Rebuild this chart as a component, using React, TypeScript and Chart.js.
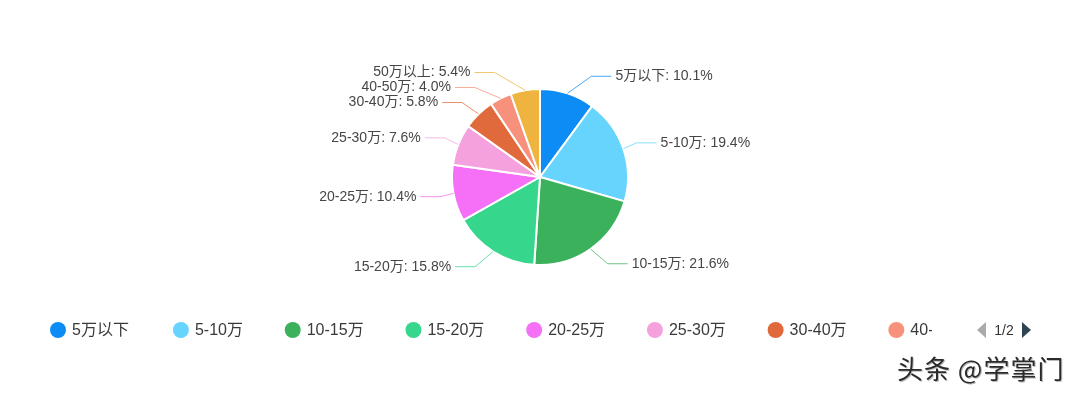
import React, { useEffect, useRef } from "react";
import { Chart, registerables } from "chart.js";

Chart.register(...registerables);

const categories = ["5万以下", "5-10万", "10-15万", "15-20万", "20-25万", "25-30万", "30-40万", "40-50万", "50万以上"];
const shares = [10.1, 19.4, 21.6, 15.8, 10.4, 7.6, 5.8, 4.0, 5.4];
const sliceColors = ["#0d8cf5", "#66d4fc", "#3cb15c", "#36d68d", "#f56ff7", "#f5a1dd", "#e06a3c", "#f7917b", "#efb33f"];
const pagerText = "1/2";
const watermark = "头条 @学掌门";

const FONT = '"Liberation Sans", "Noto Sans CJK SC", sans-serif';

const pieLabels = {
  id: "pieLabels",
  afterDatasetsDraw(chart: any) {
    const ctx = chart.ctx;
    const meta = chart.getDatasetMeta(0);
    const LEN1 = 18;
    const LEN2 = 20;
    const items = meta.data.map((arc: any, i: number) => {
      const p = arc.getProps(["x", "y", "startAngle", "endAngle", "outerRadius"], true);
      const mid = (p.startAngle + p.endAngle) / 2;
      return {
        i,
        cx: p.x,
        cy: p.y,
        r: p.outerRadius,
        ex: p.x + Math.cos(mid) * p.outerRadius,
        ey: p.y + Math.sin(mid) * p.outerRadius,
        ly: p.y + Math.sin(mid) * (p.outerRadius + LEN1),
        right: Math.cos(mid) >= 0,
      };
    });
    const gap = 15;
    [true, false].forEach((side) => {
      const list = items.filter((it: any) => it.right === side).sort((a: any, b: any) => a.ly - b.ly);
      for (let k = 1; k < list.length; k++) {
        if (list[k].ly < list[k - 1].ly + gap) list[k].ly = list[k - 1].ly + gap;
      }
    });
    ctx.save();
    ctx.font = `14px ${FONT}`;
    ctx.textBaseline = "middle";
    items.forEach((it: any) => {
      const RA = it.r + 13;
      const RB = it.r + 29;
      const dy = it.ly - it.cy;
      const dx = RA * Math.sqrt(Math.max(0, 1 - (dy * dy) / (RB * RB)));
      const sx = it.right ? 1 : -1;
      const bx = it.cx + sx * dx;
      const hx = bx + sx * LEN2;
      ctx.strokeStyle = sliceColors[it.i];
      ctx.globalAlpha = 0.75;
      ctx.lineWidth = 1;
      ctx.beginPath();
      ctx.moveTo(it.ex, it.ey);
      ctx.lineTo(bx, it.ly);
      ctx.lineTo(hx, it.ly);
      ctx.stroke();
      ctx.globalAlpha = 1;
      ctx.fillStyle = "#464646";
      ctx.textAlign = it.right ? "left" : "right";
      const txt = `${categories[it.i]}: ${shares[it.i].toFixed(1)}%`;
      ctx.fillText(txt, hx + sx * 4, it.ly);
    });
    ctx.restore();
  },
};

const legendAndMark = {
  id: "legendAndMark",
  afterDraw(chart: any) {
    const ctx = chart.ctx;
    const y = 330;
    const clipRight = 932;
    ctx.save();
    ctx.beginPath();
    ctx.rect(0, y - 20, clipRight, 40);
    ctx.clip();
    ctx.font = `16px ${FONT}`;
    ctx.textBaseline = "middle";
    ctx.textAlign = "left";
    let cx = 58;
    categories.forEach((c, i) => {
      ctx.fillStyle = sliceColors[i];
      ctx.beginPath();
      ctx.arc(cx, y, 8, 0, Math.PI * 2);
      ctx.fill();
      ctx.fillStyle = "#3a3a3a";
      ctx.fillText(c, cx + 14, y + 1);
      const w = ctx.measureText(c).width;
      cx = cx + 14 + w + (i === 0 ? 44 : 41.8) + 8;
    });
    ctx.restore();

    ctx.save();
    // pager
    ctx.fillStyle = "#aaaaaa";
    ctx.beginPath();
    ctx.moveTo(986, 322);
    ctx.lineTo(986, 338);
    ctx.lineTo(977, 330);
    ctx.closePath();
    ctx.fill();
    ctx.fillStyle = "#2f4554";
    ctx.beginPath();
    ctx.moveTo(1022, 322);
    ctx.lineTo(1022, 338);
    ctx.lineTo(1031, 330);
    ctx.closePath();
    ctx.fill();
    ctx.fillStyle = "#333333";
    ctx.font = `14px ${FONT}`;
    ctx.textAlign = "center";
    ctx.textBaseline = "middle";
    ctx.fillText(pagerText, 1004, 331);
    // watermark
    ctx.font = `26px "Noto Sans CJK SC", sans-serif`;
    try {
      (ctx as any).letterSpacing = "1px";
    } catch (e) {}
    ctx.textAlign = "left";
    ctx.fillStyle = "#bbbbbb";
    ctx.fillText(watermark, 898, 370);
    ctx.fillStyle = "#2b2b2b";
    ctx.fillText(watermark, 897, 369);
    ctx.restore();
  },
};

export default function App() {
  const ref = useRef<HTMLCanvasElement | null>(null);
  useEffect(() => {
    document.body.style.margin = "0";
    const chart = new Chart(ref.current as HTMLCanvasElement, {
      type: "pie",
      data: {
        labels: categories,
        datasets: [
          {
            data: shares,
            backgroundColor: sliceColors,
            borderColor: "#ffffff",
            borderWidth: 2,
            hoverOffset: 0,
          },
        ],
      },
      options: {
        animation: false,
        responsive: true,
        maintainAspectRatio: false,
        radius: 88,
        layout: { padding: { top: 0, bottom: 40, left: 0, right: 0 } },
        plugins: {
          legend: { display: false },
          tooltip: { enabled: false },
        },
      } as any,
      plugins: [pieLabels, legendAndMark],
    });
    return () => chart.destroy();
  }, []);
  return (
    <div style={{ position: "fixed", left: 0, top: 0, width: 1080, height: 394, background: "#ffffff" }}>
      <canvas ref={ref} />
    </div>
  );
}
